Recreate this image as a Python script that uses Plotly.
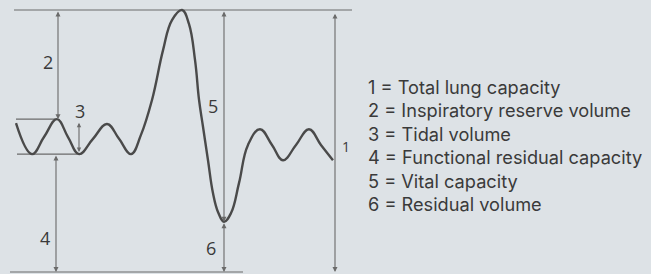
import plotly.graph_objects as go

# ---- data (time in s, lung volume in L) ----
time_s = [1.00, 2.00, 2.75, 3.56, 4.25, 4.94, 5.81, 6.69, 7.44, 8.19, 8.81, 9.50,
          10.19, 10.75, 11.38, 11.81, 12.19, 12.44, 12.69, 13.00, 13.31, 13.63,
          14.00, 14.44, 14.94, 15.50, 16.25, 17.00, 17.69, 18.50, 19.31, 20.06, 20.81]
volume_l = [3.41, 2.70, 3.09, 3.50, 3.09, 2.70, 3.05, 3.39, 3.05, 2.70, 3.14, 3.94,
            5.08, 5.77, 6.00, 5.68, 4.85, 3.94, 3.32, 2.56, 1.81, 1.37,
            1.15, 1.35, 2.04, 2.91, 3.27, 2.91, 2.56, 2.91, 3.27, 2.91, 2.56]

TLC = 6.00       # total lung capacity level
TIDAL_TOP = 3.50 # end-inspiration level
FRC = 2.70       # functional residual capacity level
RV = 1.15        # residual volume level
ZERO = 0.0

legend_lines = ["1 = Total lung capacity",
                "2 = Inspiratory reserve volume",
                "3 = Tidal volume",
                "4 = Functional residual capacity",
                "5 = Vital capacity",
                "6 = Residual volume"]

# ---- layout scale (pixels per unit) ----
W, H = 651, 274
PX_T = 16.0      # px per second
PX_V = 43.67     # px per litre
y_bottom_px = 272

def tx(px):
    return px / PX_T

def vy(py):
    return (y_bottom_px - py) / PX_V

fig = go.Figure()

line_col = "#6a6a6a"
curve_col = "#4a4a4a"
text_col = "#3a3a3a"
FONT = "Open Sans"
LEG_FONT = "Inter"

# horizontal reference lines
ref_lines = [
    ([tx(14), tx(352)], [TLC, TLC]),
    ([tx(16), tx(57)], [TIDAL_TOP, TIDAL_TOP]),
    ([tx(17), tx(80)], [FRC, FRC]),
    ([tx(10), tx(243)], [ZERO, ZERO]),
]
for xs, ys in ref_lines:
    fig.add_trace(go.Scatter(x=xs, y=ys, mode="lines",
                             line=dict(color=line_col, width=1.2),
                             hoverinfo="skip", showlegend=False))

# spirometer curve
fig.add_trace(go.Scatter(x=time_s, y=volume_l, mode="lines",
                         line=dict(color=curve_col, width=2.4, shape="spline", smoothing=1.2),
                         showlegend=False))

annotations = []

def darrow(x, y0, y1, size=0.9):
    annotations.append(dict(
        x=x, y=y1, ax=x, ay=y0, xref="x", yref="y", axref="x", ayref="y",
        text="", showarrow=True, arrowhead=2, arrowside="end+start",
        arrowsize=size, arrowwidth=1.1, arrowcolor=line_col,
        standoff=0, startstandoff=0))

darrow(tx(58), TLC, TIDAL_TOP)        # 2
darrow(tx(79), TIDAL_TOP - 0.05, FRC + 0.05, size=0.8)  # 3
darrow(tx(56), FRC, ZERO)             # 4
darrow(tx(224), TLC, RV)              # 5
darrow(tx(224), RV, ZERO)             # 6
darrow(tx(335), TLC - 0.05, ZERO)     # 1

def label(text, px, py, size=18):
    annotations.append(dict(x=tx(px), y=vy(py), xref="x", yref="y", text=text,
                            showarrow=False, font=dict(family=FONT, size=size, color=text_col),
                            xanchor="center", yanchor="middle"))

label("2", 48, 62)
label("3", 80, 111)
label("4", 45, 238)
label("5", 213, 106)
label("6", 211, 248)
label("1", 346, 146, size=14)

for i, txt in enumerate(legend_lines):
    annotations.append(dict(x=tx(366), y=vy(87 + 23.4 * i), xref="x", yref="y", text=txt,
                            showarrow=False, xanchor="left", yanchor="middle",
                            font=dict(family=LEG_FONT, size=18.2, color=text_col)))

bg = "#dde2e6"
fig.update_layout(
    width=W, height=H,
    margin=dict(l=0, r=0, t=0, b=0),
    paper_bgcolor=bg, plot_bgcolor=bg,
    xaxis=dict(range=[0, W / PX_T], visible=False, fixedrange=True),
    yaxis=dict(range=[vy(H), vy(0)], visible=False, fixedrange=True),
    annotations=annotations,
    showlegend=False,
)

fig.write_html("out.html", config={"displayModeBar": False},
               post_script="document.body.style.margin='0';document.body.style.background='%s';" % bg)
